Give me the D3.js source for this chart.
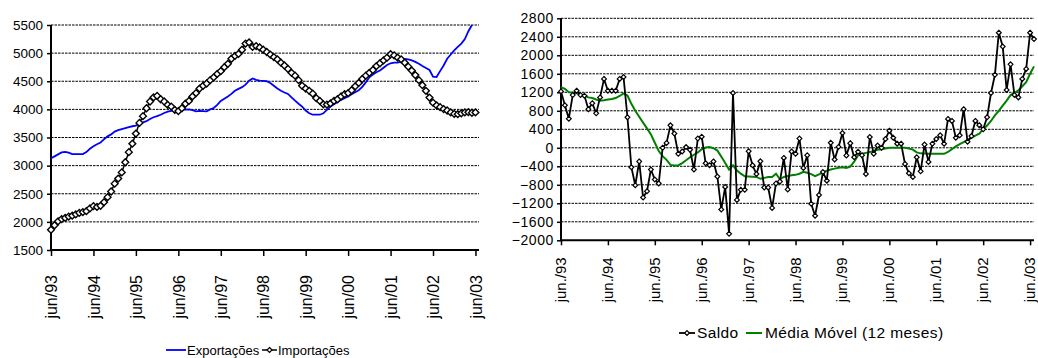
<!DOCTYPE html>
<html>
<head>
<meta charset="utf-8">
<script src="https://cdn.jsdelivr.net/npm/d3@7"></script>
<style>
  body { margin: 0; background: #fff; }
  svg { display: block; }
  text { font-family: "Liberation Sans", Arial, sans-serif; fill: #000; }
</style>
</head>
<body>
<svg id="chart" width="1038" height="358"></svg>
<script>
// Monthly series, jun/93 onwards (index 0 = jun/93)
const leftTickLabels  = ["jun/93","jun/94","jun/95","jun/96","jun/97","jun/98","jun/99","jun/00","jun/01","jun/02","jun/03"];
const rightTickLabels = ["jun./93","jun./94","jun./95","jun./96","jun./97","jun./98","jun./99","jun./00","jun./01","jun./02","jun./03"];
const leftYTicks  = [1500,2000,2500,3000,3500,4000,4500,5000,5500];
const rightYTicks = [-2000,-1600,-1200,-800,-400,0,400,800,1200,1600,2000,2400,2800];

const exportacoes = [
  3130,3165,3200,3235,3245,3230,3205,3205,3205,3205,3240,3300,
  3345,3380,3410,3470,3520,3555,3605,3630,3650,3665,3685,3700,
  3710,3750,3770,3790,3830,3860,3880,3905,3935,3960,3975,3995,
  4000,3995,3995,4000,3985,3965,3975,3970,3965,4000,4025,4080,
  4150,4190,4230,4275,4330,4365,4395,4440,4510,4550,4525,4510,
  4505,4500,4470,4420,4370,4330,4300,4275,4215,4155,4100,4050,
  3980,3930,3905,3905,3905,3930,3990,4050,4090,4130,4170,4200,
  4230,4270,4305,4340,4400,4480,4570,4620,4660,4690,4740,4790,
  4820,4830,4830,4850,4895,4890,4870,4845,4810,4770,4735,4700,
  4580,4575,4680,4780,4900,4975,5050,5110,5170,5250,5390,5500,
  5620
];
const importacoes = [
  1860,1940,2010,2050,2070,2095,2110,2135,2160,2175,2190,2240,
  2280,2265,2285,2350,2440,2540,2680,2770,2880,3060,3240,3390,
  3570,3760,3880,4020,4140,4215,4240,4180,4140,4080,4050,3990,
  3970,4020,4100,4150,4230,4290,4370,4420,4460,4520,4570,4630,
  4680,4750,4810,4900,4950,4985,5060,5170,5190,5110,5125,5100,
  5060,5020,4975,4930,4890,4830,4780,4720,4650,4600,4520,4420,
  4370,4330,4280,4200,4150,4090,4085,4105,4150,4180,4230,4270,
  4290,4340,4410,4470,4540,4600,4650,4700,4770,4820,4870,4920,
  4980,4960,4920,4890,4830,4760,4690,4610,4520,4430,4330,4210,
  4120,4070,4040,4005,3980,3945,3920,3915,3930,3945,3950,3940,
  3945
];
const saldo = [
  1220,920,630,1140,1235,1140,1125,835,965,745,1090,1490,
  1235,1235,1235,1490,1530,660,-420,-810,-295,-1075,-940,-470,
  -685,-770,0,105,485,310,-130,-80,15,-40,-470,200,
  240,-335,-375,-295,-620,-1335,-845,-1860,1185,-1127,-909,-909,
  -73,-378,-567,-290,-858,-858,-1300,-770,-730,-218,-900,-80,
  -130,200,-436,-160,-1210,-1470,-1020,-523,-710,110,-254,20,
  320,-165,100,-205,-87,-160,-567,233,-127,50,0,190,
  370,218,90,90,-349,-550,-632,-204,-509,70,-305,87,
  190,270,87,625,582,218,269,836,131,254,582,490,
  400,660,1185,1578,2490,2190,1250,1805,1141,1090,1490,1706,
  2490,2350
];
const mediaMovel = [
  1310,1275,1200,1195,1180,1150,1125,1090,1075,1045,1020,1030,
  1045,1055,1075,1120,1175,1130,950,800,670,545,420,290,
  110,-70,-180,-260,-370,-380,-380,-330,-270,-205,-150,-100,
  -30,5,15,-10,-60,-190,-330,-470,-380,-490,-560,-615,
  -620,-625,-630,-670,-650,-630,-630,-560,-680,-630,-610,-595,
  -585,-560,-520,-540,-570,-615,-575,-530,-495,-470,-450,-430,
  -420,-435,-405,-300,-160,-130,-110,-90,-75,-40,-30,-15,
  0,0,0,0,0,-15,-40,-100,-120,-125,-130,-130,
  -130,-130,-130,-90,-30,30,80,125,170,215,265,305,
  400,480,580,700,800,910,1020,1140,1190,1240,1330,1420,
  1600,1760
];

const svg = d3.select("#chart");
const diamond = r => `M0,${-r}L${r},0L0,${r}L${-r},0Z`;
const tickIndex = (labels) => labels.map((_, k) => k * 12);

// ---------- Left panel: exports and imports ----------
{
  const x = d3.scaleLinear().domain([0, 121]).range([51, 479]);
  const y = d3.scaleLinear().domain([1500, 5500]).range([250, 25]);
  const g = svg.append("g");

  g.append("clipPath").attr("id", "clipL")
    .append("rect").attr("x", x(0) - 6).attr("y", y(5500)).attr("width", x(121) - x(0) + 12).attr("height", y(1500) - y(5500));

  // horizontal gridlines
  g.selectAll("line.grid").data(leftYTicks.filter(v => v > 1500)).join("line")
    .attr("x1", x(0)).attr("x2", x(121))
    .attr("y1", d => y(d)).attr("y2", d => y(d))
    .attr("stroke", "#000").attr("stroke-width", 1).attr("stroke-dasharray", "2.5,1");

  // y axis
  const ya = g.append("g").attr("transform", `translate(${x(0)},0)`)
    .call(d3.axisLeft(y).tickValues(leftYTicks).tickSize(4).tickPadding(4).tickFormat(d3.format("d")));
  ya.attr("font-family", null);
  ya.select(".domain").attr("stroke-width", 2).attr("d", `M0,${y(5500)}V${y(1500)}`);
  ya.selectAll(".tick line").attr("stroke-width", 1.5);
  ya.selectAll(".tick text").style("font-size", "13.5px");

  // x axis
  const xa = g.append("g").attr("transform", `translate(0,${y(1500)})`)
    .call(d3.axisBottom(x).tickValues(tickIndex(leftTickLabels)).tickSize(6).tickFormat((d, k) => leftTickLabels[k]));
  xa.attr("font-family", null);
  xa.select(".domain").attr("stroke-width", 2).attr("d", `M${x(0)},0H${x(121)}`);
  xa.selectAll(".tick line").attr("stroke-width", 1.5);
  xa.selectAll(".tick text")
    .style("font-size", "16px")
    .attr("text-anchor", "end").attr("transform", "rotate(-90)")
    .attr("x", -25).attr("y", 0).attr("dy", "0.36em");

  const plot = g.append("g").attr("clip-path", "url(#clipL)");
  const line = d3.line().x((d, i) => x(i)).y(d => y(d));

  plot.append("path").datum(exportacoes).attr("d", line)
    .attr("fill", "none").attr("stroke", "#0000ff").attr("stroke-width", 1.8);
  plot.append("path").datum(importacoes).attr("d", line)
    .attr("fill", "none").attr("stroke", "#000").attr("stroke-width", 1.5);
  plot.selectAll("path.imp").data(importacoes).join("path").attr("class", "imp")
    .attr("transform", (d, i) => `translate(${x(i)},${y(d)})`)
    .attr("d", diamond(3.4)).attr("fill", "#fff").attr("stroke", "#000").attr("stroke-width", 1.4);

  // legend
  const lg = g.append("g").attr("transform", "translate(0,350)");
  lg.append("line").attr("x1", 166).attr("x2", 186).attr("stroke", "#0000ff").attr("stroke-width", 1.8);
  lg.append("text").attr("x", 187).attr("dy", "0.35em").style("font-size", "13px").text("Exportações");
  lg.append("line").attr("x1", 262).attr("x2", 277).attr("stroke", "#000").attr("stroke-width", 1.5);
  lg.append("path").attr("transform", "translate(269.5,0)").attr("d", diamond(2.5))
    .attr("fill", "#fff").attr("stroke", "#000").attr("stroke-width", 1.2);
  lg.append("text").attr("x", 278).attr("dy", "0.35em").style("font-size", "13px").text("Importações");
}

// ---------- Right panel: trade balance and 12-month moving average ----------
{
  const x = d3.scaleLinear().domain([0, 121]).range([561, 1034]);
  const y = d3.scaleLinear().domain([-2000, 2800]).range([240.3, 18.3]);
  const g = svg.append("g");

  g.selectAll("line.grid").data(rightYTicks.filter(v => v > -2000)).join("line")
    .attr("x1", x(0)).attr("x2", x(121))
    .attr("y1", d => y(d)).attr("y2", d => y(d))
    .attr("stroke", "#000").attr("stroke-width", 1).attr("stroke-dasharray", "2.5,1");

  const ya = g.append("g").attr("transform", `translate(${x(0)},0)`)
    .call(d3.axisLeft(y).tickValues(rightYTicks).tickSize(4).tickPadding(3).tickFormat(d3.format("d")));
  ya.attr("font-family", null);
  ya.select(".domain").attr("stroke-width", 2).attr("d", `M0,${y(2800)}V${y(-2000)}`);
  ya.selectAll(".tick line").attr("stroke-width", 1.5);
  ya.selectAll(".tick text").style("font-size", "14px").style("letter-spacing", "0.6px");

  const xa = g.append("g").attr("transform", `translate(0,${y(-2000)})`)
    .call(d3.axisBottom(x).tickValues(tickIndex(rightTickLabels)).tickSize(5).tickFormat((d, k) => rightTickLabels[k]));
  xa.attr("font-family", null);
  xa.select(".domain").attr("stroke-width", 2).attr("d", `M${x(0)},0H${x(121)}`);
  xa.selectAll(".tick line").attr("stroke-width", 1.5);
  xa.selectAll(".tick text")
    .style("font-size", "15px")
    .attr("text-anchor", "end").attr("transform", "rotate(-90)")
    .attr("x", -17).attr("y", 0).attr("dy", "0.3em");

  const line = d3.line().x((d, i) => x(i)).y(d => y(d));
  g.append("path").datum(mediaMovel).attr("d", line)
    .attr("fill", "none").attr("stroke", "#008000").attr("stroke-width", 2);
  g.append("path").datum(saldo).attr("d", line)
    .attr("fill", "none").attr("stroke", "#000").attr("stroke-width", 1.8);
  g.selectAll("path.sal").data(saldo).join("path").attr("class", "sal")
    .attr("transform", (d, i) => `translate(${x(i)},${y(d)})`)
    .attr("d", diamond(2.4)).attr("fill", "#fff").attr("stroke", "#000").attr("stroke-width", 1.2);

  const lg = g.append("g").attr("transform", "translate(0,333)");
  lg.append("line").attr("x1", 679).attr("x2", 695).attr("stroke", "#000").attr("stroke-width", 1.8);
  lg.append("path").attr("transform", "translate(687,0)").attr("d", diamond(2.4))
    .attr("fill", "#fff").attr("stroke", "#000").attr("stroke-width", 1.2);
  lg.append("text").attr("x", 697).attr("dy", "0.35em").style("font-size", "15.5px").style("letter-spacing", "0.4px").text("Saldo");
  lg.append("line").attr("x1", 746).attr("x2", 762).attr("stroke", "#008000").attr("stroke-width", 2);
  lg.append("text").attr("x", 765).attr("dy", "0.35em").style("font-size", "15.5px").style("letter-spacing", "0.4px").text("Média Móvel (12 meses)");
}
</script>
</body>
</html>
